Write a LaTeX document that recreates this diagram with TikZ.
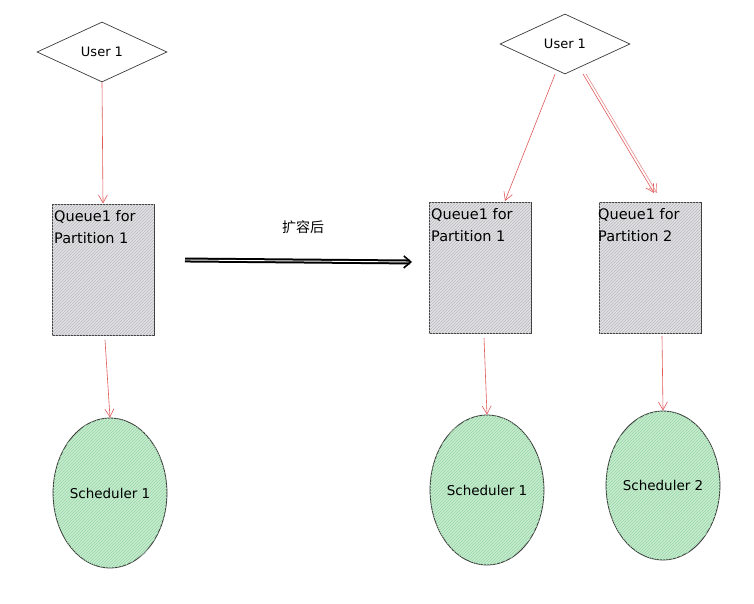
\documentclass[tikz,border=0pt]{standalone}
\usepackage{fontspec}
\setmainfont{DejaVu Sans}
\newfontfamily\cjk{Noto Sans CJK SC}
\usetikzlibrary{shapes.geometric,arrows.meta,patterns}
\definecolor{redline}{RGB}{224,90,90}
\definecolor{boxfill}{RGB}{226,226,228}
\definecolor{boxhatch}{RGB}{185,185,190}
\definecolor{greenfill}{RGB}{200,236,208}
\definecolor{greenhatch}{RGB}{150,214,165}
\definecolor{edge}{RGB}{60,60,60}
\tikzset{
  user/.style={draw=edge, line width=0.7pt, diamond, aspect=2.17, minimum width=130pt, minimum height=60pt, inner sep=0pt, font=\fontsize{13}{15}\selectfont},
  queue/.style={draw=edge, line width=1pt, rectangle, minimum width=102pt, minimum height=131pt, inner sep=0pt, fill=boxfill,
    postaction={pattern=north east lines, pattern color=boxhatch}},
  qtext/.style={anchor=north west, align=left, inner sep=0pt, font=\fontsize{14.5}{22}\selectfont},
  sched/.style={draw=edge, line width=0.9pt, ellipse, minimum width=110pt, minimum height=150pt, inner sep=0pt, fill=greenfill,
    postaction={pattern=north east lines, pattern color=greenhatch}, font=\fontsize{13.5}{15}\selectfont},
  flow/.style={draw=redline, line width=0.6pt, -{Straight Barb[length=8pt,width=9pt]}},
  bigarrow/.style={draw=black, line width=2pt, double=white, double distance=0.9pt, -{Straight Barb[length=7pt,width=12pt,line width=1.6pt]}}
}
\begin{document}
\begin{tikzpicture}[x=1pt,y=-1pt]
\useasboundingbox[fill=white] (0,0) rectangle (754,604);
% left side
\node[user] (u1) at (102,52) {User 1};
\node[queue] (q1) at (103,269.5) {};
\node[qtext] (q1t) at (54,210) {Queue1 for\\Partition 1};
\node[sched] (s1) at (110,493) {Scheduler 1};
\draw[flow] (u1.south) -- (q1.north);
\draw[flow] (105,340) coordinate (q1b) -- (s1.north);
% transition arrow
\node[font=\cjk\fontsize{14}{16}\selectfont] (lab) at (303,227) {扩容后};
\coordinate (a0) at (185,260);
\coordinate (a1) at (412,262);
\draw[bigarrow] (a0) -- (a1);
% right side
\node[user] (u2) at (565,44) {User 1};
\node[queue] (q2) at (480,267.5) {};
\node[qtext] (q2t) at (431,208) {Queue1 for\\Partition 1};
\node[queue] (q3) at (650,267.5) {};
\node[qtext] (q3t) at (598,208) {Queue1 for\\Partition 2};
\node[sched] (s2) at (487,490) {Scheduler 1};
\node[sched, minimum width=107pt, minimum height=149pt] (s3) at (663,485.5) {Scheduler 2};
\draw[flow] (u2.south) ++(-10,0) coordinate (u2a) -- (505,201) coordinate (q2in);
\draw[flow] (583,74) coordinate (u2b) -- (654,193) coordinate (q3in);
\draw[flow, draw=redline!70] (586,74) -- (657,193);
\draw[flow] (484,338) coordinate (q2b) -- (s2.north);
\draw[flow] (662,336) coordinate (q3b) -- (s3.north);
\end{tikzpicture}
\end{document}
